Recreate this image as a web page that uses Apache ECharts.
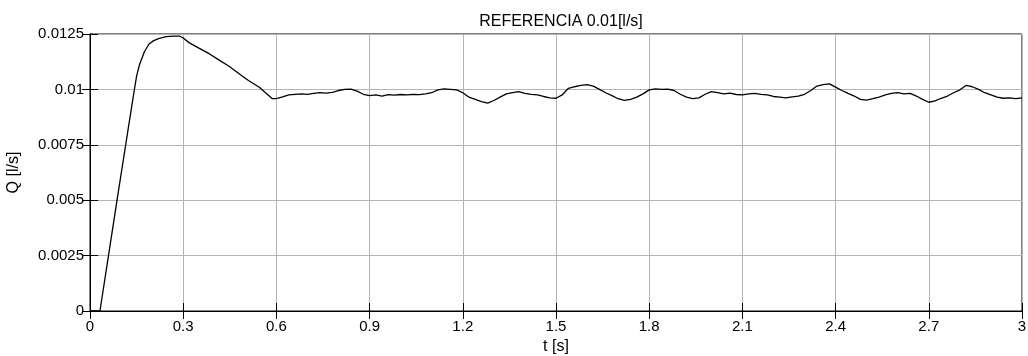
<!DOCTYPE html>
<html>
<head>
<meta charset="utf-8">
<script src="https://cdn.jsdelivr.net/npm/echarts@6/dist/echarts.min.js"></script>
<style>
  html, body { margin: 0; padding: 0; background: #fff; }
  #chart { width: 1028px; height: 356px; }
</style>
</head>
<body>
<div id="chart"></div>
<script>
// Flow response Q(t) to a 0.01 l/s reference step
const timeS = [
  0.00, 0.032, 0.06, 0.087, 0.116, 0.135, 0.143, 0.15, 0.159, 0.175, 0.19, 0.205, 0.223, 0.245, 0.27, 0.29,
  0.30, 0.32, 0.352, 0.385, 0.416, 0.45, 0.48, 0.51, 0.545, 0.565, 0.587,
  0.60, 0.62, 0.64, 0.66, 0.68, 0.70, 0.72, 0.74, 0.76, 0.78,
  0.80, 0.82, 0.84, 0.86, 0.88, 0.90, 0.92, 0.94, 0.96, 0.98,
  1.00, 1.02, 1.04, 1.06, 1.08, 1.10, 1.12, 1.14, 1.16, 1.18,
  1.20, 1.22, 1.24, 1.26, 1.28, 1.30, 1.32, 1.34, 1.36, 1.38,
  1.40, 1.42, 1.44, 1.46, 1.48, 1.50, 1.52, 1.54, 1.56, 1.58,
  1.60, 1.62, 1.64, 1.66, 1.68, 1.70, 1.72, 1.74, 1.76, 1.78,
  1.80, 1.82, 1.84, 1.86, 1.88, 1.90, 1.92, 1.94, 1.96, 1.98,
  2.00, 2.02, 2.04, 2.06, 2.08, 2.10, 2.12, 2.14, 2.16, 2.18,
  2.20, 2.22, 2.24, 2.26, 2.28, 2.30, 2.32, 2.34, 2.36, 2.38,
  2.40, 2.42, 2.44, 2.46, 2.48, 2.50, 2.52, 2.54, 2.56, 2.58,
  2.60, 2.62, 2.64, 2.66, 2.68, 2.70, 2.72, 2.74, 2.76, 2.78,
  2.80, 2.82, 2.84, 2.86, 2.88, 2.90, 2.92, 2.94, 2.96, 2.98, 3.00
];
const flowQ = [
  0, 0, 0.00254, 0.0050, 0.0076, 0.0093, 0.0100, 0.0106, 0.0111, 0.0117, 0.01205, 0.01220, 0.01230, 0.01238, 0.01240, 0.01240,
  0.01232, 0.01210, 0.01185, 0.01160, 0.01132, 0.01102, 0.01071, 0.01040, 0.01010, 0.00985, 0.00958,
  0.00958, 0.00966, 0.00975, 0.00978, 0.00980, 0.00978, 0.00982, 0.00985, 0.00983, 0.00987,
  0.00995, 0.01000, 0.01001, 0.00992, 0.00978, 0.00972, 0.00975, 0.00970, 0.00976, 0.00974,
  0.00977, 0.00975, 0.00978, 0.00976, 0.00980, 0.00985, 0.00998, 0.01002, 0.01000, 0.00998,
  0.00985, 0.00965, 0.00955, 0.00945, 0.00938, 0.00950, 0.00965, 0.00980, 0.00985, 0.00990,
  0.00982, 0.00978, 0.00975, 0.00968, 0.00962, 0.00960, 0.00975, 0.01005, 0.01012, 0.01018,
  0.01022, 0.01015, 0.01000, 0.00985, 0.00972, 0.00958, 0.00950, 0.00955, 0.00965, 0.00980,
  0.00998, 0.01002, 0.01000, 0.01001, 0.00995, 0.00978, 0.00965, 0.00958, 0.00962, 0.00978,
  0.00990, 0.00985, 0.00980, 0.00983, 0.00977, 0.00975, 0.00980, 0.00982, 0.00978, 0.00975,
  0.00968, 0.00965, 0.00962, 0.00966, 0.00970, 0.00978, 0.00995, 0.01015, 0.01022, 0.01025,
  0.01010, 0.00995, 0.00982, 0.00970, 0.00955, 0.00952, 0.00958, 0.00965, 0.00975, 0.00982,
  0.00985, 0.00980, 0.00982, 0.00970, 0.00955, 0.00942, 0.00948, 0.00960, 0.00970, 0.00985,
  0.00998, 0.01018, 0.01012, 0.01000, 0.00985, 0.00975, 0.00965, 0.00960, 0.00962, 0.00958, 0.00962
];
const xTickLabels = ['0', '0.3', '0.6', '0.9', '1.2', '1.5', '1.8', '2.1', '2.4', '2.7', '3'];
const yTickLabels = ['0', '0.0025', '0.005', '0.0075', '0.01', '0.0125'];
const chartTitle = 'REFERENCIA 0.01[l/s]';
const xName = 't [s]';
const yName = 'Q [l/s]';

const points = timeS.map((t, i) => [t, flowQ[i]]);
const FONT = 'Liberation Sans, Arial, sans-serif';

const chart = echarts.init(document.getElementById('chart'));
const gridLine = { show: true, lineStyle: { color: '#b4b4b4', width: 1, type: 'solid' } };
const tickIn = { show: true, inside: true, length: 8, lineStyle: { color: '#000', width: 1 } };
const labelText = { fontFamily: FONT, fontSize: 15, color: '#000' };

chart.setOption({
  animation: false,
  backgroundColor: '#fff',
  title: {
    text: chartTitle,
    left: 556, top: 9, textAlign: 'center',
    textStyle: { fontFamily: FONT, fontSize: 16, fontWeight: 'normal', color: '#000' }
  },
  grid: {
    left: 90, right: 6, top: 34, bottom: 45,
    outerBoundsMode: 'none', containLabel: false,
    show: true, borderColor: '#000', borderWidth: 1
  },
  xAxis: [{
    type: 'value', min: 0, max: 3, interval: 0.3,
    name: xName, nameLocation: 'middle', nameGap: 27,
    nameTextStyle: { fontFamily: FONT, fontSize: 16, color: '#000' },
    axisLine: { show: true, lineStyle: { color: '#000', width: 1 } },
    axisTick: tickIn,
    splitLine: gridLine,
    axisLabel: Object.assign({}, labelText, {
      margin: 8,
      formatter: v => xTickLabels[Math.round(v / 0.3)] ?? ''
    })
  }, {
    type: 'value', min: 0, max: 3, interval: 0.3, position: 'top',
    axisLine: { show: true, lineStyle: { color: '#000' } },
    axisTick: tickIn, axisLabel: { show: false }, splitLine: { show: false }
  }],
  yAxis: [{
    type: 'value', min: 0, max: 0.0125, interval: 0.0025,
    name: yName, nameLocation: 'middle', nameGap: 68, nameRotate: 90,
    nameTextStyle: { fontFamily: FONT, fontSize: 16, color: '#000' },
    axisLine: { show: true, lineStyle: { color: '#000', width: 1 } },
    axisTick: tickIn,
    splitLine: gridLine,
    axisLabel: Object.assign({}, labelText, {
      margin: 6,
      formatter: v => yTickLabels[Math.round(v / 0.0025)] ?? ''
    })
  }, {
    type: 'value', min: 0, max: 0.0125, interval: 0.0025, position: 'right',
    axisLine: { show: true, lineStyle: { color: '#000' } },
    axisTick: tickIn, axisLabel: { show: false }, splitLine: { show: false }
  }],
  series: [{
    type: 'line',
    data: points,
    xAxisIndex: 0, yAxisIndex: 0,
    showSymbol: false,
    smooth: false,
    lineStyle: { color: '#000', width: 1.3 },
    z: 5
  }]
});
</script>
</body>
</html>
